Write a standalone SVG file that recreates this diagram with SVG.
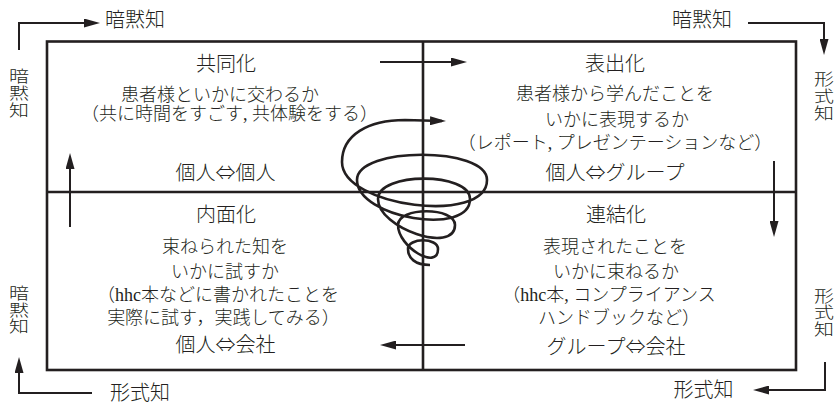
<svg xmlns="http://www.w3.org/2000/svg" width="835" height="403" viewBox="0 0 835 403">
<style>
text{font-family:"Liberation Serif","Noto Sans CJK JP",serif;fill:#231f20;text-anchor:middle;font-weight:300}
.h{font-size:20px}
.b{font-size:18px}
.s{font-size:20px}
.j{font-family:"Noto Sans CJK JP","Liberation Serif",sans-serif}
.ln{fill:none;stroke:#231f20;stroke-width:2}
.frame{fill:none;stroke:#231f20;stroke-width:2.6}
.sp{fill:none;stroke:#231f20;stroke-width:2.6}
</style>
<defs>
<marker id="ah" markerUnits="userSpaceOnUse" markerWidth="16" markerHeight="9" refX="12" refY="4.5" orient="auto">
<path d="M0,0 L16,4.5 L0,9 Z" fill="#231f20"/>
</marker>
</defs>

<g id="frame">
<rect class="frame" x="47" y="41.5" width="749" height="328.5"/>
<line class="frame" x1="423" y1="41.5" x2="423" y2="370"/>
<line class="frame" x1="47" y1="192" x2="796" y2="192"/>
</g>

<g id="connectors">
<polyline class="ln" points="19,50 19,23 96,23" marker-end="url(#ah)"/>
<polyline class="ln" points="748,23 824,23 824,51" marker-end="url(#ah)"/>
<polyline class="ln" points="92,393 19,393 19,361" marker-end="url(#ah)"/>
<polyline class="ln" points="825,362 825,390 757,390" marker-end="url(#ah)"/>
<line class="ln" x1="380" y1="62" x2="463" y2="62" marker-end="url(#ah)"/>
<line class="ln" x1="70" y1="227" x2="70" y2="157" marker-end="url(#ah)"/>
<line class="ln" x1="774" y1="161" x2="774" y2="233" marker-end="url(#ah)"/>
<line class="ln" x1="465" y1="345" x2="384" y2="345" marker-end="url(#ah)"/>
<path id="spiral" class="sp" marker-end="url(#ah)" d="M430,265 C415,265 408,258 408,249 C408,237.4 438,237.4 438,249 C438,271 398,247 398,225 C398,206.7 455,206.7 455,225 C455,254.4 378,228.4 378,199 C378,171.9 470,171.9 470,199 C470,237 357,218 357,180 C357,146.3 487,146.3 487,180 C487,225 342,207 342,162 C342,135 368,120 405,120 L442,121"/>
</g>

<g id="socialization">
<text class="h" x="226" y="71.4">共同化</text>
<text class="b" x="220" y="100.7">患者様といかに交わるか</text>
<text class="b" x="229.5" y="119.7">（共に時間をすごす, 共体験をする）</text>
<text class="h j" x="225.5" y="180.4">個人⇔個人</text>
</g>

<g id="externalization">
<text class="h" x="615" y="71.4">表出化</text>
<text class="b" x="615" y="100.2">患者様から学んだことを</text>
<text class="b" x="617" y="125.7">いかに表現するか</text>
<text class="b" x="615" y="148.7">（レポート, プレゼンテーションなど）</text>
<text class="h j" x="615" y="180.4">個人⇔グループ</text>
</g>

<g id="internalization">
<text class="h" x="226" y="222.4">内面化</text>
<text class="b" x="225" y="253.4">束ねられた知を</text>
<text class="b" x="225" y="277.5">いかに試すか</text>
<text class="b" x="218" y="301.2">（hhc本などに書かれたことを</text>
<text class="b" x="223.5" y="324.2">実際に試す，実践してみる）</text>
<text class="h j" x="225.5" y="352.4">個人⇔会社</text>
</g>

<g id="combination">
<text class="h" x="616" y="222.4">連結化</text>
<text class="b" x="615" y="252.5">表現されたことを</text>
<text class="b" x="616" y="277.5">いかに束ねるか</text>
<text class="b" x="609" y="301.2">（hhc本, コンプライアンス</text>
<text class="b" x="619" y="324.2">ハンドブックなど）</text>
<text class="h j" x="616" y="353.9">グループ⇔会社</text>
</g>

<g id="labels">
<text class="s" x="135" y="27.4">暗黙知</text>
<text class="s" x="702" y="27.4">暗黙知</text>
<text class="s" x="140" y="400.4">形式知</text>
<text class="s" x="703.5" y="397.4">形式知</text>
<text class="s" transform="translate(19 75.5) scale(1 0.82)" y="7.4">暗</text>
<text class="s" transform="translate(19 92.5) scale(1 0.82)" y="7.4">黙</text>
<text class="s" transform="translate(19 109.5) scale(1 0.82)" y="7.4">知</text>
<text class="s" transform="translate(824 79) scale(1 0.82)" y="7.4">形</text>
<text class="s" transform="translate(824 96) scale(1 0.82)" y="7.4">式</text>
<text class="s" transform="translate(824 112.5) scale(1 0.82)" y="7.4">知</text>
<text class="s" transform="translate(19 292.5) scale(1 0.82)" y="7.4">暗</text>
<text class="s" transform="translate(19 309.5) scale(1 0.82)" y="7.4">黙</text>
<text class="s" transform="translate(19 326) scale(1 0.82)" y="7.4">知</text>
<text class="s" transform="translate(824 295.5) scale(1 0.82)" y="7.4">形</text>
<text class="s" transform="translate(824 312) scale(1 0.82)" y="7.4">式</text>
<text class="s" transform="translate(824 329) scale(1 0.82)" y="7.4">知</text>
</g>
</svg>
